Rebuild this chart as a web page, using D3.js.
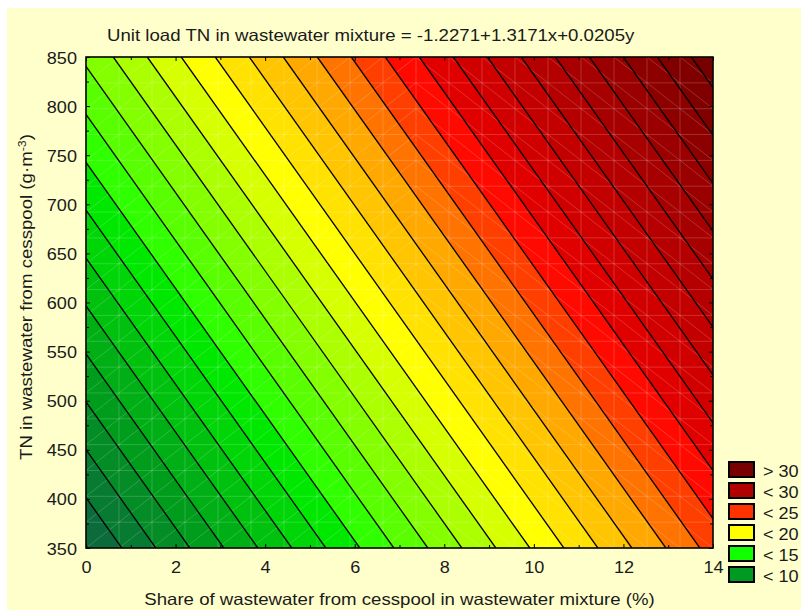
<!DOCTYPE html>
<html>
<head>
<meta charset="utf-8">
<script src="https://cdn.jsdelivr.net/npm/d3@7"></script>
<style>
  body { margin: 0; background: #fff; }
  text { font-family: "Liberation Sans", Arial, sans-serif; fill: #1a1a1a; }
</style>
</head>
<body>
<script>
// regression surface: z = b0 + b1*x + b2*y
const coef = [-1.2271, 1.3171, 0.0205];
const levels = [6, 7, 8, 9, 10, 11, 12, 13, 14, 15, 16, 17, 18, 19, 20,
                21, 22, 23, 24, 25, 26, 27, 28, 29, 30, 31, 32, 33, 34];
const bandLows = [5].concat(levels);
const xTicks = [0, 2, 4, 6, 8, 10, 12, 14];
const xMinor = [1, 3, 5, 7, 9, 11, 13];
const yTicks = [350, 400, 450, 500, 550, 600, 650, 700, 750, 800, 850];
const yMinor = [375, 425, 475, 525, 575, 625, 675, 725, 775, 825];
const legendLabels = ["> 30", "< 30", "< 25", "< 20", "< 15", "< 10"];
const legendColors = ["#780000", "#b00000", "#ff3300", "#ffff00", "#11ff00", "#009922"];

const width = 801, height = 610;
const sx = 1.13; // the source font runs wide

let svg = d3.select("body").append("svg")
    .attr("width", width)
    .attr("height", height);

// background
svg.append("rect")
    .attr("x", 7).attr("y", 8)
    .attr("width", width - 7).attr("height", height - 8)
    .attr("fill", "#ffffcc");

const plot = {left: 86, right: 713, top: 57, bottom: 548};
const x = d3.scaleLinear().domain([0, 14]).range([plot.left, plot.right]);
const y = d3.scaleLinear().domain([350, 850]).range([plot.bottom, plot.top]);

svg.append("clipPath").attr("id", "clip")
    .append("rect")
    .attr("x", plot.left).attr("y", plot.top)
    .attr("width", plot.right - plot.left).attr("height", plot.bottom - plot.top);

// x where the surface equals z at a given y
const xAt = (z, yv) => (z - coef[0] - coef[2] * yv) / coef[1];
const [yLo, yHi] = y.domain();

const bandColor = d3.scaleLinear()
    .domain([5, 6, 9, 13, 14, 19, 22, 25, 26, 29, 33, 34])
    .range(["#0a5e42", "#0b6b3b", "#009c1c", "#00e800", "#30ff00", "#ffff00",
             "#ffa800", "#ff0a00", "#e00000", "#b40000", "#800000", "#760000"])
    .clamp(true);

let gPlot = svg.append("g").attr("clip-path", "url(#clip)");

// filled bands
const line = d3.line();
gPlot.selectAll("path.band")
    .data(bandLows)
    .join("path")
    .attr("class", "band")
    .attr("d", k => line([
        [x(xAt(k, yLo)), y(yLo)],
        [x(xAt(k, yHi)), y(yHi)],
        [x(xAt(k + 1, yHi)), y(yHi)],
        [x(xAt(k + 1, yLo)), y(yLo)]
    ]) + "Z")
    .attr("fill", k => bandColor(k))
    .attr("stroke", k => bandColor(k))
    .attr("stroke-width", 0.6);

// faint mesh
const nMesh = 19;
const mx = d3.range(nMesh + 1).map(i => i * 14 / nMesh);
const my = d3.range(nMesh + 1).map(i => 350 + i * 500 / nMesh);
let gMesh = gPlot.append("g")
    .attr("stroke", "#ffffff")
    .attr("stroke-opacity", 0.18)
    .attr("stroke-width", 1);
mx.forEach(v => {
    gMesh.append("line")
        .attr("x1", x(v)).attr("x2", x(v))
        .attr("y1", y(yLo)).attr("y2", y(yHi));
});
my.forEach(v => {
    gMesh.append("line")
        .attr("x1", x(0)).attr("x2", x(14))
        .attr("y1", y(v)).attr("y2", y(v));
});
for (let i = 0; i < nMesh; i++) {
    for (let j = 0; j < nMesh; j++) {
        const up = i < 10;
        gMesh.append("line")
            .attr("x1", x(mx[i])).attr("x2", x(mx[i + 1]))
            .attr("y1", y(up ? my[j] : my[j + 1]))
            .attr("y2", y(up ? my[j + 1] : my[j]));
    }
}

// contour lines
gPlot.selectAll("line.contour")
    .data(levels)
    .join("line")
    .attr("class", "contour")
    .attr("x1", k => x(xAt(k, yLo))).attr("y1", y(yLo))
    .attr("x2", k => x(xAt(k, yHi))).attr("y2", y(yHi))
    .attr("stroke", "#000")
    .attr("stroke-width", 1.3);

// axes (ticks pointing inward on all four sides)
function tickAxis(axis, tr, vals, size) {
    return svg.append("g")
        .attr("transform", tr)
        .call(axis.tickValues(vals).tickSize(size).tickFormat(""))
        .call(g => g.select(".domain").remove());
}
tickAxis(d3.axisBottom(x), `translate(0,${plot.bottom})`, xMinor, -3);
tickAxis(d3.axisTop(x), `translate(0,${plot.top})`, xMinor, -3);
tickAxis(d3.axisTop(x), `translate(0,${plot.top})`, xTicks, -4);
tickAxis(d3.axisLeft(y), `translate(${plot.left},0)`, yMinor, -3);
tickAxis(d3.axisRight(y), `translate(${plot.right},0)`, yMinor, -3);
tickAxis(d3.axisRight(y), `translate(${plot.right},0)`, yTicks, -4);

let gx = svg.append("g")
    .attr("transform", `translate(0,${plot.bottom})`)
    .call(d3.axisBottom(x).tickValues(xTicks).tickSize(-4));
gx.select(".domain").remove();
gx.selectAll("text")
    .attr("y", 25).attr("dy", null)
    .attr("transform", `scale(${sx},1)`)
    .style("font-size", "16px");

let gy = svg.append("g")
    .attr("transform", `translate(${plot.left},0)`)
    .call(d3.axisLeft(y).tickValues(yTicks).tickSize(-4));
gy.select(".domain").remove();
gy.selectAll("text")
    .attr("x", -8).attr("dy", "0.38em")
    .attr("transform", `scale(${sx},1)`)
    .style("font-size", "16px");

svg.selectAll(".tick line").attr("stroke", "#000");

// plot border
svg.append("rect")
    .attr("x", plot.left).attr("y", plot.top)
    .attr("width", plot.right - plot.left).attr("height", plot.bottom - plot.top)
    .attr("fill", "none")
    .attr("stroke", "#000")
    .attr("stroke-width", 1.6);

// texts
function label(tx, ty, str, anchor, rot, size) {
    return svg.append("text")
        .attr("transform", `translate(${tx},${ty})` + (rot ? ` rotate(${rot})` : "") + ` scale(${sx},1)`)
        .attr("text-anchor", anchor)
        .style("font-size", size + "px")
        .text(str);
}
label(107, 41, "Unit load TN in wastewater mixture = -1.2271+1.3171x+0.0205y", "start", 0, 16.5);
label((plot.left + plot.right) / 2, 605,
      "Share of wastewater from cesspool in wastewater mixture (%)", "middle", 0, 16.5);

let yTitle = label(32, 297, "TN in wastewater from cesspool (g·m", "middle", -90, 16.5);
yTitle.append("tspan").attr("dy", -6).style("font-size", "11px").text("-3");
yTitle.append("tspan").attr("dy", 6).text(")");

// legend
let legend = svg.append("g").attr("transform", "translate(728,461)");
legendLabels.forEach((d, i) => {
    legend.append("rect")
        .attr("x", 1).attr("y", i * 21 + 1)
        .attr("width", 25).attr("height", 15)
        .attr("fill", legendColors[i])
        .attr("stroke", "#000")
        .attr("stroke-width", 2);
    legend.append("text")
        .attr("transform", `translate(35,${i * 21 + 15.5}) scale(${sx},1)`)
        .style("font-size", "16px")
        .text(d);
});
</script>
</body>
</html>
